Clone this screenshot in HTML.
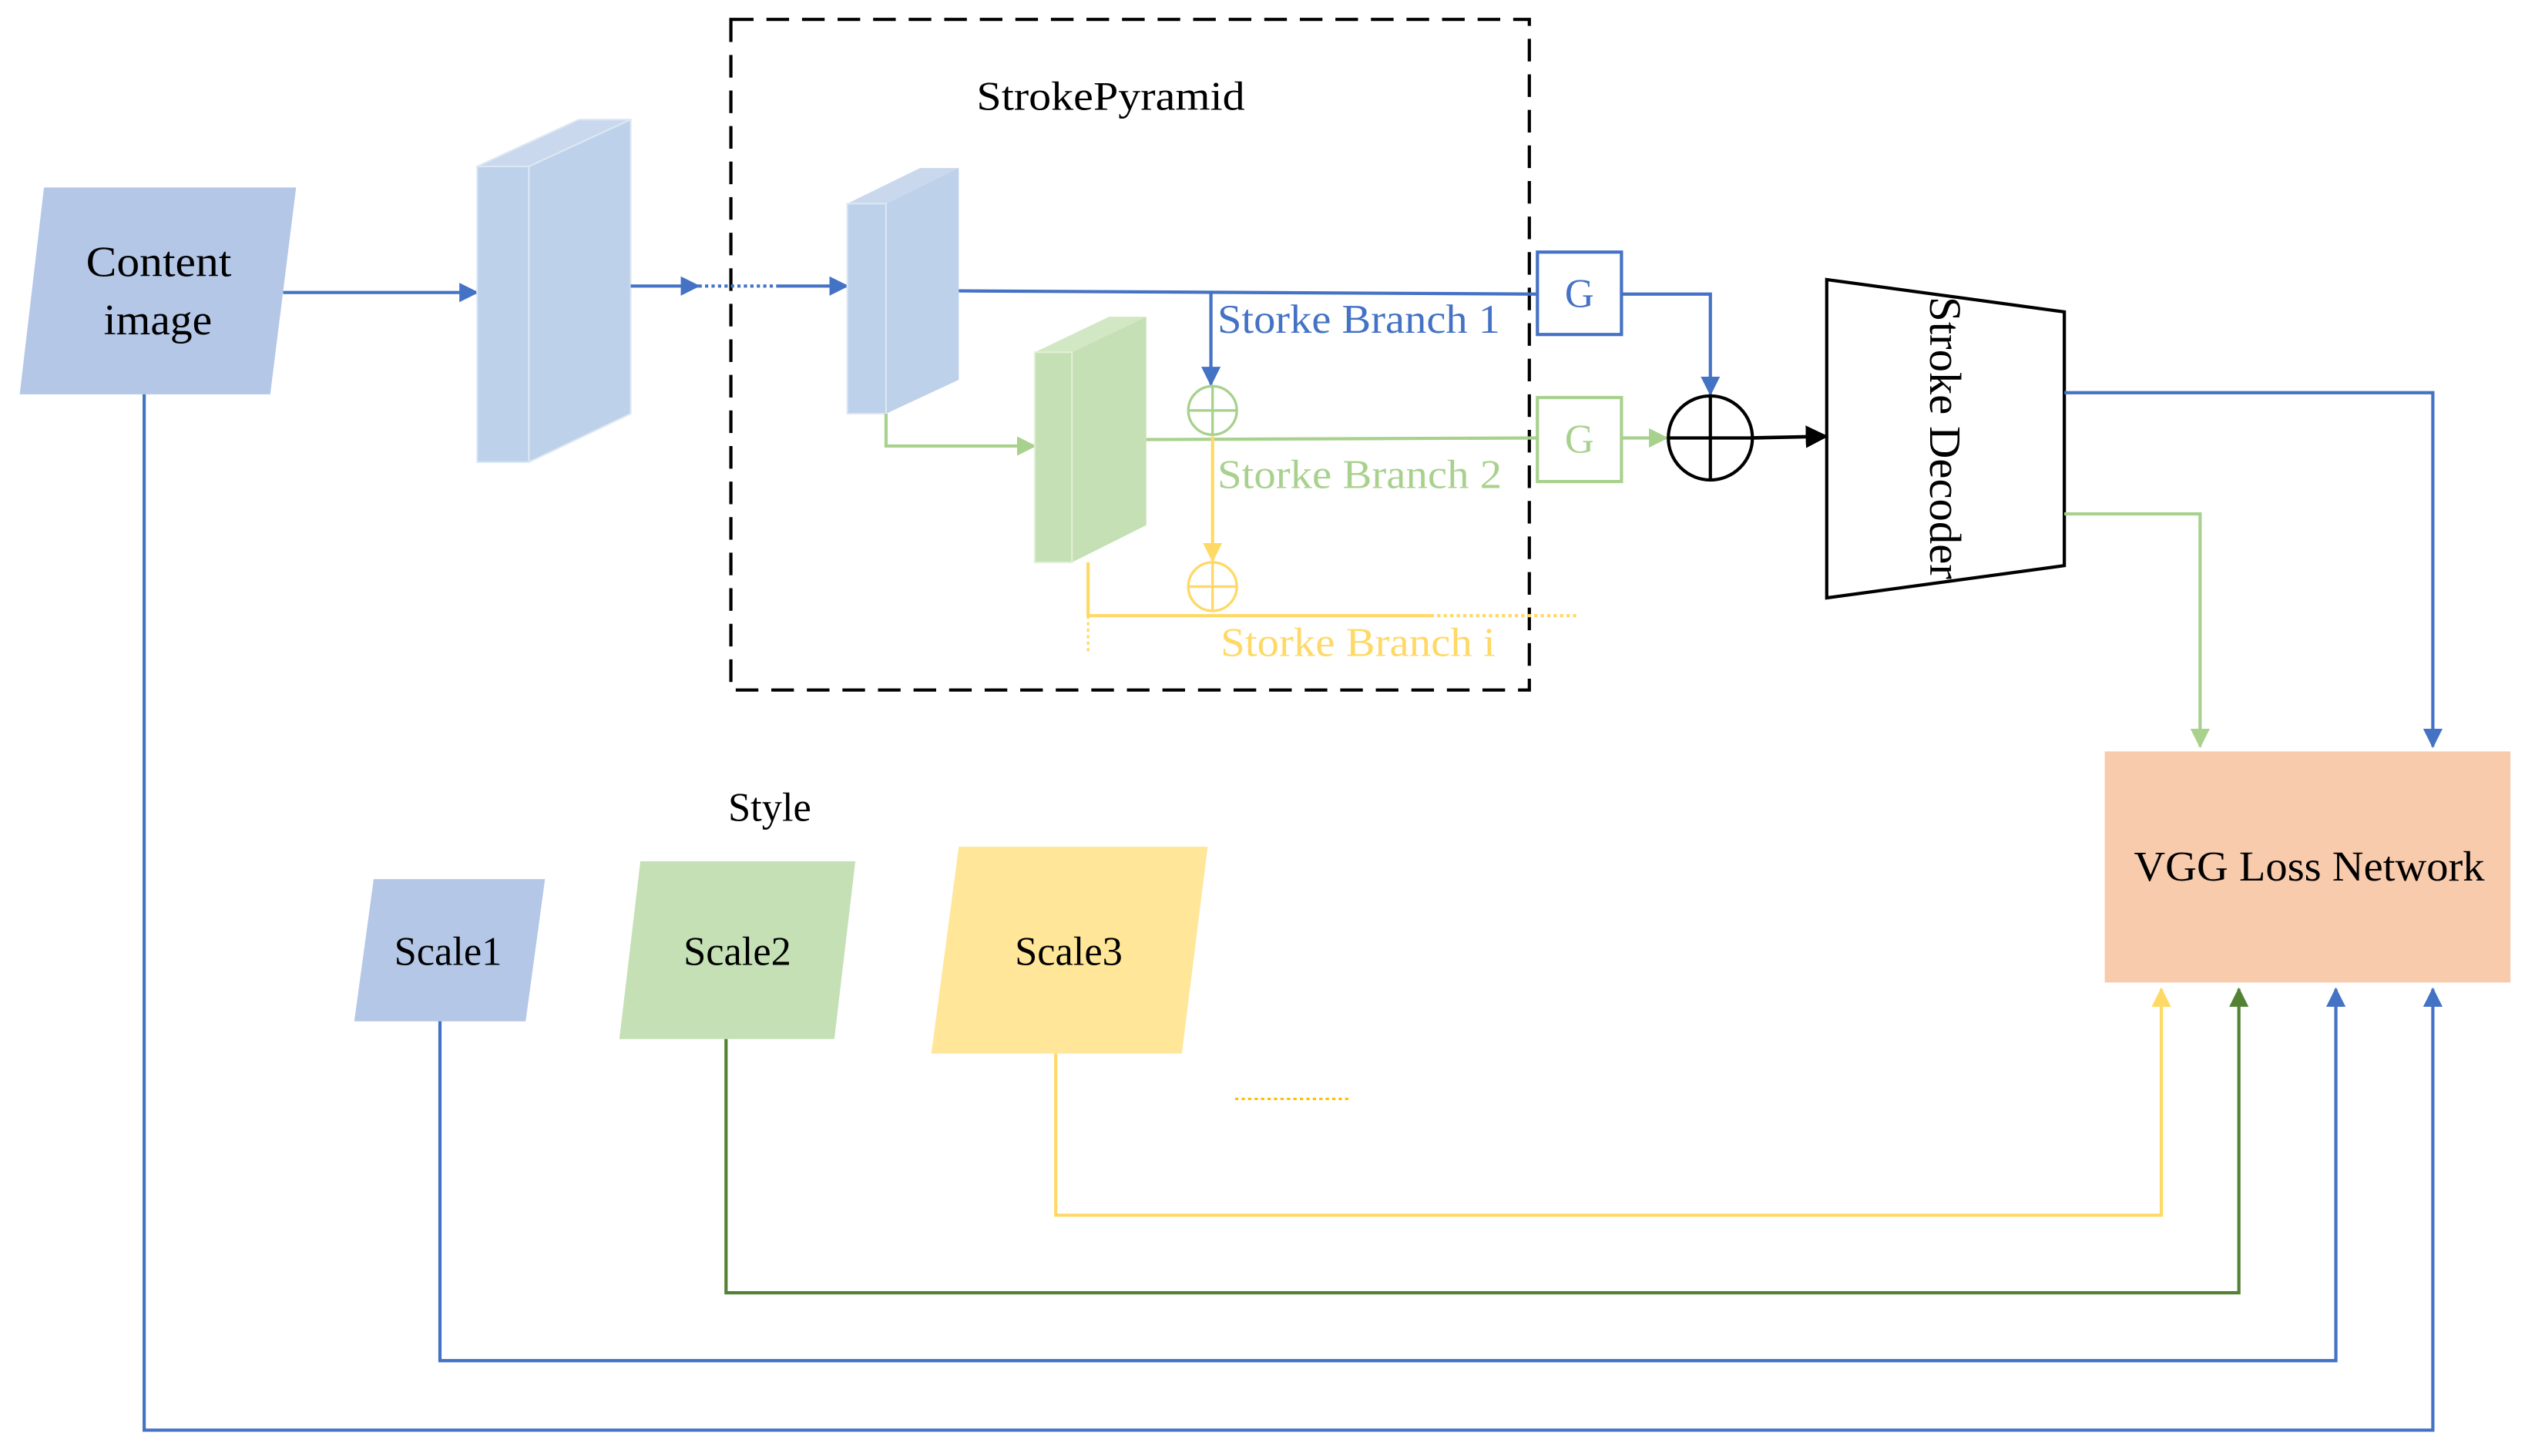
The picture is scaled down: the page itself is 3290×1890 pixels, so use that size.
<!DOCTYPE html>
<html><head><meta charset="utf-8"><style>html,body{margin:0;padding:0;background:#fff}svg{display:block}</style></head>
<body>
<svg width="3290" height="1890" viewBox="0 0 1568 901" xmlns="http://www.w3.org/2000/svg" font-family="Liberation Serif, serif">
<defs>
<marker id="abl" markerWidth="12" markerHeight="12" refX="11" refY="6" orient="auto" markerUnits="userSpaceOnUse"><path d="M0,0L12,6L0,12z" fill="#4472c4"/></marker>
<marker id="ag" markerWidth="12" markerHeight="12" refX="11" refY="6" orient="auto" markerUnits="userSpaceOnUse"><path d="M0,0L12,6L0,12z" fill="#a9d18e"/></marker>
<marker id="ay" markerWidth="12" markerHeight="12" refX="11" refY="6" orient="auto" markerUnits="userSpaceOnUse"><path d="M0,0L12,6L0,12z" fill="#ffd966"/></marker>
<marker id="ad" markerWidth="12" markerHeight="12" refX="11" refY="6" orient="auto" markerUnits="userSpaceOnUse"><path d="M0,0L12,6L0,12z" fill="#548235"/></marker>
<marker id="ak" markerWidth="14" markerHeight="14" refX="13" refY="7" orient="auto" markerUnits="userSpaceOnUse"><path d="M0,0L14,7L0,14z" fill="#000"/></marker>
</defs>
<rect x="452" y="12" width="494" height="415" fill="none" stroke="#000" stroke-width="2" stroke-dasharray="14,8"/>
<text x="604" y="68" font-size="25" textLength="166" lengthAdjust="spacingAndGlyphs">StrokePyramid</text>
<polygon points="27,116 183,116 167,244 12,244" fill="#b4c7e7"/>
<text x="53" y="171" font-size="27" textLength="90" lengthAdjust="spacingAndGlyphs">Content</text>
<text x="64" y="207" font-size="27" textLength="67" lengthAdjust="spacingAndGlyphs">image</text>
<line x1="175" y1="181" x2="295" y2="181" stroke="#4472c4" stroke-width="2" marker-end="url(#abl)"/>
<polygon points="295,103 327,103 390,74 358,74" fill="#c9d8ed" stroke="#dde7f4" stroke-width="1"/>
<polygon points="327,103 390,74 390,256 327,286" fill="#bdd1ea" stroke="#dde7f4" stroke-width="1"/>
<rect x="295" y="103" width="32" height="183" fill="#bdd1ea" stroke="#dde7f4" stroke-width="1"/>
<line x1="390" y1="177" x2="432" y2="177" stroke="#4472c4" stroke-width="2" marker-end="url(#abl)"/>
<line x1="432" y1="177" x2="480" y2="177" stroke="#4472c4" stroke-width="2" stroke-dasharray="2,2"/>
<line x1="480" y1="177" x2="524" y2="177" stroke="#4472c4" stroke-width="2" marker-end="url(#abl)"/>
<polygon points="524,126 548,126 593,104 569,104" fill="#c9d8ed"/>
<polygon points="548,126 593,104 593,235 548,256" fill="#bdd1ea"/>
<rect x="524" y="126" width="24" height="130" fill="#bdd1ea" stroke="#dde7f4" stroke-width="1"/>
<polyline points="593,180 951,182" fill="none" stroke="#4472c4" stroke-width="2"/>
<line x1="749" y1="181" x2="749" y2="238" stroke="#4472c4" stroke-width="2" marker-end="url(#abl)"/>
<circle cx="750" cy="254" r="15" fill="none" stroke="#a9d18e" stroke-width="1.6"/>
<line x1="735" y1="254" x2="765" y2="254" stroke="#a9d18e" stroke-width="1.6"/>
<line x1="750" y1="239" x2="750" y2="269" stroke="#a9d18e" stroke-width="1.6"/>
<text x="753" y="206" font-size="25" fill="#4472c4" textLength="175" lengthAdjust="spacingAndGlyphs">Storke Branch 1</text>
<rect x="951" y="156" width="52" height="51" fill="#fff" stroke="#4472c4" stroke-width="2"/>
<text x="977" y="190" font-size="25" fill="#4472c4" text-anchor="middle">G</text>
<polyline points="548,256 548,276 640,276" fill="none" stroke="#a9d18e" stroke-width="2" marker-end="url(#ag)"/>
<polygon points="640,218 663,218 709,196 686,196" fill="#d2e7c4"/>
<polygon points="663,218 709,196 709,325 663,348" fill="#c5e0b4"/>
<rect x="640" y="218" width="23" height="130" fill="#c5e0b4" stroke="#e1efd8" stroke-width="1"/>
<line x1="709" y1="272" x2="951" y2="271" stroke="#a9d18e" stroke-width="2"/>
<rect x="951" y="246" width="52" height="52" fill="#fff" stroke="#a9d18e" stroke-width="2"/>
<text x="977" y="280" font-size="25" fill="#a9d18e" text-anchor="middle">G</text>
<text x="753" y="302" font-size="25" fill="#a9d18e" textLength="176" lengthAdjust="spacingAndGlyphs">Storke Branch 2</text>
<line x1="750" y1="270" x2="750" y2="347" stroke="#ffd966" stroke-width="2" marker-end="url(#ay)"/>
<circle cx="750" cy="363" r="15" fill="none" stroke="#ffd966" stroke-width="1.6"/>
<line x1="735" y1="363" x2="765" y2="363" stroke="#ffd966" stroke-width="1.6"/>
<line x1="750" y1="348" x2="750" y2="378" stroke="#ffd966" stroke-width="1.6"/>
<polyline points="673,348 673,381 885,381" fill="none" stroke="#ffd966" stroke-width="2"/>
<line x1="885" y1="381" x2="975" y2="381" stroke="#ffd966" stroke-width="2" stroke-dasharray="2,2"/>
<line x1="673" y1="381" x2="673" y2="404" stroke="#ffd966" stroke-width="1.5" stroke-dasharray="2,2"/>
<text x="755" y="406" font-size="25" fill="#ffd966" textLength="170" lengthAdjust="spacingAndGlyphs">Storke Branch i</text>
<polyline points="1003,182 1058,182 1058,244" fill="none" stroke="#4472c4" stroke-width="2" marker-end="url(#abl)"/>
<line x1="1003" y1="271" x2="1031" y2="271" stroke="#a9d18e" stroke-width="2" marker-end="url(#ag)"/>
<circle cx="1058" cy="271" r="26" fill="#fff" stroke="#000" stroke-width="2"/>
<line x1="1032" y1="271" x2="1084" y2="271" stroke="#000" stroke-width="2"/>
<line x1="1058" y1="245" x2="1058" y2="297" stroke="#000" stroke-width="2"/>
<line x1="1084" y1="271" x2="1130" y2="270" stroke="#000" stroke-width="2.2" marker-end="url(#ak)"/>
<polygon points="1130,173 1277,193 1277,350 1130,370" fill="#fff" stroke="#000" stroke-width="2"/>
<text transform="translate(1194,271) rotate(90)" font-size="28" text-anchor="middle">Stroke Decoder</text>
<polyline points="1277,243 1505,243 1505,462" fill="none" stroke="#4472c4" stroke-width="2" marker-end="url(#abl)"/>
<polyline points="1277,318 1361,318 1361,462" fill="none" stroke="#a9d18e" stroke-width="2" marker-end="url(#ag)"/>
<rect x="1302" y="465" width="251" height="143" fill="#f8cbad"/>
<text x="1320" y="545" font-size="26" textLength="217" lengthAdjust="spacingAndGlyphs">VGG Loss Network</text>
<text x="476" y="508" font-size="25" text-anchor="middle">Style</text>
<polygon points="231,544 337,544 325,632 219,632" fill="#b4c7e7"/>
<text x="277" y="597" font-size="25" text-anchor="middle">Scale1</text>
<polygon points="396,533 529,533 516,643 383,643" fill="#c5e0b4"/>
<text x="456" y="597" font-size="25" text-anchor="middle">Scale2</text>
<polygon points="593,524 747,524 731,652 576,652" fill="#ffe699"/>
<text x="661" y="597" font-size="25" text-anchor="middle">Scale3</text>
<line x1="764" y1="680" x2="836" y2="680" stroke="#ffc000" stroke-width="1.5" stroke-dasharray="2,2"/>
<polyline points="653,652 653,752 1337,752 1337,612" fill="none" stroke="#ffd966" stroke-width="2" marker-end="url(#ay)"/>
<polyline points="449,643 449,800 1385,800 1385,612" fill="none" stroke="#548235" stroke-width="2" marker-end="url(#ad)"/>
<polyline points="272,632 272,842 1445,842 1445,612" fill="none" stroke="#4472c4" stroke-width="2" marker-end="url(#abl)"/>
<polyline points="89,244 89,885 1505,885 1505,612" fill="none" stroke="#4472c4" stroke-width="2" marker-end="url(#abl)"/>
</svg>
</body></html>
